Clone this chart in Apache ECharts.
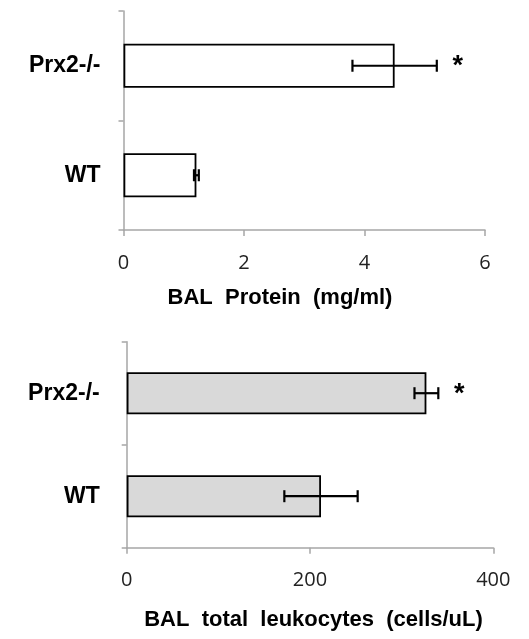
<!DOCTYPE html>
<html>
<head>
<meta charset="utf-8">
<script src="https://cdn.jsdelivr.net/npm/echarts@6/dist/echarts.min.js"></script>
<style>
  html, body { margin: 0; padding: 0; background: #fff; }
  #chart { width: 529px; height: 639px; }
</style>
</head>
<body>
<div id="chart"></div>
<script>
// categories, bottom to top
const groups = ['WT', 'Prx2-/-'];
const significance = ['', '*'];

// BAL protein (mg/ml)
const proteinMean = [1.21, 4.5];
const proteinErr = [0.04, 0.7];
const proteinTicks = [0, 2, 4, 6];

// BAL total leukocytes (cells/uL)
const leukMean = [212, 327];
const leukErr = [40, 13];
const leukTicks = [0, 200, 400];

const labelFont = '"Liberation Sans", Arial, sans-serif';
const tickFont = '"Open Sans", sans-serif';
const axisGray = '#a6a6a6';

function errorBars(idx, means, errs) {
    return {
        type: 'custom',
        xAxisIndex: idx,
        yAxisIndex: idx,
        z: 10,
        data: means.map((m, i) => [m - errs[i], m + errs[i], i]),
        encode: { x: [0, 1], y: 2 },
        renderItem: function (params, api) {
            const lo = api.coord([api.value(0), api.value(2)]);
            const hi = api.coord([api.value(1), api.value(2)]);
            const h = 6;
            const style = { stroke: '#000', lineWidth: 2.2 };
            const children = [
                { type: 'line', shape: { x1: lo[0], y1: lo[1], x2: hi[0], y2: hi[1] }, style: style },
                { type: 'line', shape: { x1: lo[0], y1: lo[1] - h, x2: lo[0], y2: lo[1] + h }, style: style },
                { type: 'line', shape: { x1: hi[0], y1: hi[1] - h, x2: hi[0], y2: hi[1] + h }, style: style }
            ];
            const star = significance[params.dataIndex];
            if (star) {
                children.push({
                    type: 'text',
                    x: hi[0] + 21,
                    y: hi[1] + 1,
                    style: {
                        text: star,
                        font: 'bold 27px ' + labelFont,
                        fill: '#000',
                        align: 'center',
                        verticalAlign: 'middle'
                    }
                });
            }
            return { type: 'group', children: children };
        }
    };
}

function valueAxis(idx, ticks, margin) {
    return {
        gridIndex: idx,
        type: 'value',
        min: ticks[0],
        max: ticks[ticks.length - 1],
        interval: ticks[1] - ticks[0],
        axisLine: { show: true, lineStyle: { color: axisGray, width: 1.5 } },
        axisTick: { show: true, length: 6, lineStyle: { color: axisGray, width: 1.5 } },
        splitLine: { show: false },
        axisLabel: { margin: margin, fontFamily: tickFont, fontSize: 20, color: '#222' }
    };
}

function categoryAxis(idx, margin) {
    return {
        gridIndex: idx,
        type: 'category',
        data: groups,
        axisLine: { show: true, lineStyle: { color: axisGray, width: 1.5 } },
        axisTick: { show: true, length: 5, lineStyle: { color: axisGray, width: 1.5 } },
        axisLabel: { margin: margin, fontFamily: labelFont, fontWeight: 'bold', fontSize: 23, color: '#000' }
    };
}

const titleStyle = { font: 'bold 22px ' + labelFont, fill: '#000', align: 'center', verticalAlign: 'middle' };

const option = {
    backgroundColor: '#fff',
    animation: false,
    grid: [
        { left: 123.5, top: 11, width: 361.5, height: 219 },
        { left: 126.7, top: 341.7, width: 366.6, height: 206 }
    ],
    xAxis: [valueAxis(0, proteinTicks, 23), valueAxis(1, leukTicks, 23)],
    yAxis: [categoryAxis(0, 23), categoryAxis(1, 27)],
    graphic: [
        {
            type: 'text', x: 280, y: 298,
            style: Object.assign({ text: 'BAL  Protein  (mg/ml)' }, titleStyle)
        },
        {
            type: 'text', x: 313.5, y: 620,
            style: Object.assign({ text: 'BAL  total  leukocytes  (cells/uL)' }, titleStyle)
        }
    ],
    series: [
        {
            type: 'bar', xAxisIndex: 0, yAxisIndex: 0,
            data: proteinMean, barWidth: 44,
            itemStyle: { color: '#fff', borderColor: '#000', borderWidth: 1.8 }
        },
        errorBars(0, proteinMean, proteinErr),
        {
            type: 'bar', xAxisIndex: 1, yAxisIndex: 1,
            data: leukMean, barWidth: 42,
            itemStyle: { color: '#d9d9d9', borderColor: '#000', borderWidth: 1.8 }
        },
        errorBars(1, leukMean, leukErr)
    ]
};

const myChart = echarts.init(document.getElementById('chart'), null, { renderer: 'canvas' });
myChart.setOption(option);
</script>
</body>
</html>
